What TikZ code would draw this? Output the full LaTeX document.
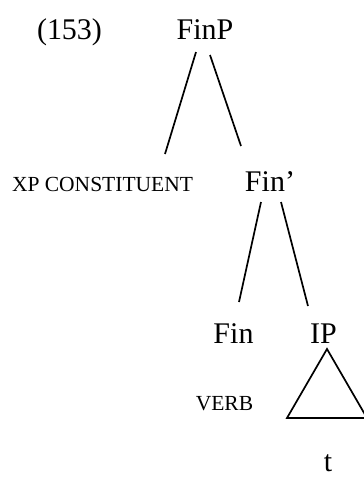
\documentclass[tikz,border=0pt]{standalone}
\usepackage{fontspec}
\setmainfont{Liberation Serif}
\begin{document}
\begin{tikzpicture}[x=1pt, y=-1pt, line width=1.7pt,
		cat/.style={inner sep=0pt, anchor=base, font=\fontsize{30}{36}\selectfont},
		gloss/.style={inner sep=0pt, anchor=base, font=\fontsize{21.5}{26}\selectfont}]
		\useasboundingbox (0,0) rectangle (364,477);

		% 例句编号与根节点
		\node[cat] (num) at (69.5,39) {(153)};
		\node[cat] (finp) at (205,39) {FinP};

		% 第二层
		\node[gloss] (xp) at (102.5,191) {XP CONSTITUENT};
		\node[cat] (finbar) at (270,191) {Fin'};

		% 第三层
		\node[cat] (fin) at (233.5,343) {Fin};
		\node[cat] (ip) at (323.5,343) {IP};
		\node[gloss] (verb) at (224.5,410) {VERB};
		\node[cat] (trace) at (328,471) {t};

		% 树枝
		\draw ([shift={(-9,13)}]finp.base) -- ([shift={(62.5,-37)}]xp.base);
		\draw ([shift={(5,16)}]finp.base) -- ([shift={(-29,-45)}]finbar.base);
		\draw ([shift={(-9,11)}]finbar.base) -- ([shift={(5.5,-41)}]fin.base);
		\draw ([shift={(11,11)}]finbar.base) -- ([shift={(-15.5,-37)}]ip.base);

		% IP 下的三角形
		\draw ([shift={(3.5,6)}]ip.base) -- ++(-40,69) -- ++(80,0) -- cycle;
	\end{tikzpicture}
\end{document}
